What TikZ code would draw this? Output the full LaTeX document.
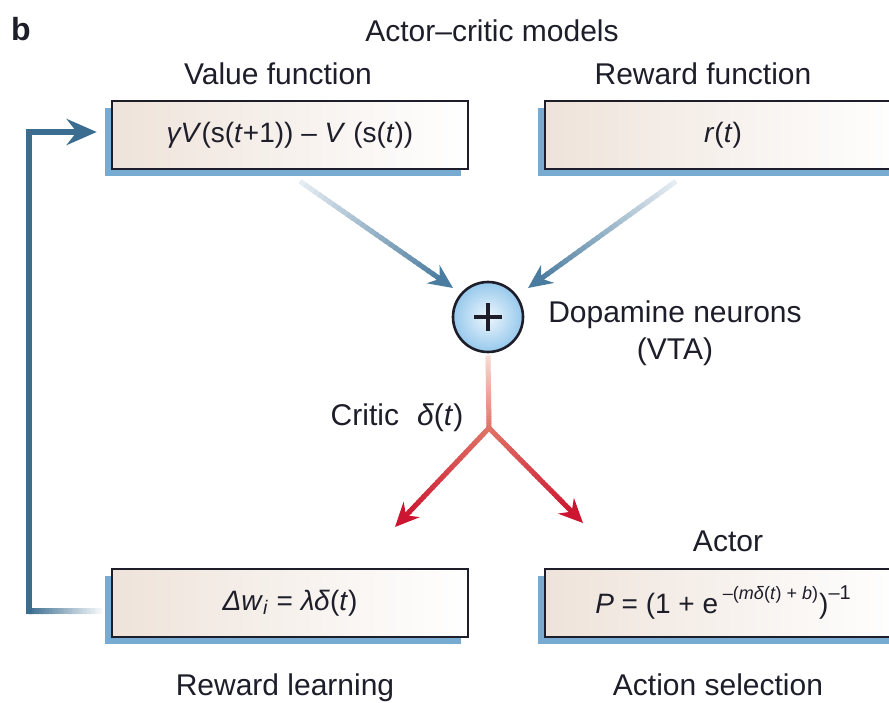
\documentclass[tikz,border=0pt]{standalone}
\usepackage{fontspec}
\setmainfont{Liberation Sans}
\usetikzlibrary{arrows.meta,calc,shadows}

\definecolor{ink}{HTML}{1E1E2A}
\definecolor{boxtan}{HTML}{EEE3DA}
\definecolor{shadowblue}{HTML}{78ABD1}
\definecolor{arrowblue}{HTML}{4A7C9F}
\definecolor{fadeblue}{HTML}{E8EEF3}
\definecolor{loopblue}{HTML}{3B6D90}
\definecolor{pinkfade}{HTML}{FADDD5}
\definecolor{midred}{HTML}{E07466}
\definecolor{deepred}{HTML}{CC1530}
\definecolor{ballin}{HTML}{EEF7FD}
\definecolor{ballout}{HTML}{96C8EC}

% straight stroke whose colour runs from #3 at (#1) to #4 at (#2)
\newcommand{\gline}[5]{%
  \foreach \k in {0,...,29}{%
    \pgfmathsetmacro{\gfa}{\k/30}%
    \pgfmathsetmacro{\gfb}{min(1,(\k+1.4)/30)}%
    \pgfmathtruncatemacro{\gfm}{100*(\k+0.5)/30}%
    \draw[line width=#5, color=#4!\gfm!#3] ($(#1)!\gfa!(#2)$) -- ($(#1)!\gfb!(#2)$);
  }}

\tikzset{
  lbl/.style={text=ink, font=\fontsize{15}{18}\selectfont, inner sep=0pt},
  eqbox/.style={draw=ink, line width=1.3pt, left color=boxtan, right color=white,
    minimum width=178pt, minimum height=34pt, inner sep=0pt, text=ink,
    font=\fontsize{14}{17}\selectfont,
    general shadow={fill=shadowblue, shadow xshift=-3.5pt, shadow yshift=-3.5pt}},
  sumnode/.style={circle, draw=ink, line width=1.3pt, inner color=ballin,
    outer color=ballout, minimum size=35pt, inner sep=0pt},
  bluetip/.style={-{Stealth[length=12pt,width=11pt,inset=4pt]}, line width=2.5pt, arrowblue},
  redtip/.style={-{Stealth[length=12pt,width=11pt,inset=4pt]}, line width=2.5pt, deepred},
  looptip/.style={-{Stealth[length=15pt,width=13pt,inset=5pt]}, line width=3pt, loopblue,
    line cap=rect, line join=miter}
}

\begin{document}
\begin{tikzpicture}[x=0.5pt, y=-0.5pt]
\clip (0,0) rectangle (889,702);
\fill[white] (0,0) rectangle (889,702);

% headings
\node[lbl, font=\fontsize{16}{18}\selectfont\bfseries] (panel) at (21,29) {b};
\node[lbl] (title) at (492,31) {Actor–critic models};
\node[lbl] (vflab) at (278,74) {Value function};
\node[lbl] (rflab) at (703,74) {Reward function};

% equation boxes
\node[eqbox] (vf) at (290,135) {\textit{γV}(s(\textit{t}+1)) – \textit{V} (s(\textit{t}))};
\node[eqbox] (rf) at (723,135) {\textit{r}(\textit{t})};
\node[eqbox] (dw) at (290,603) {\textit{Δw}\textsubscript{\textit{i}} = \textit{λδ}(\textit{t})};
\node[eqbox] (act) at (723,603) {\textit{P} = (1 + e\,\raisebox{0.5em}{\fontsize{9}{9}\selectfont –(\textit{mδ}(\textit{t}) + \textit{b})}\kern0.5pt)\raisebox{0.5em}{\fontsize{10}{10}\selectfont –1}};

% dopamine summing node
\node[sumnode] (da) at (488,317) {};
\draw[ink, line width=2.2pt] ($(da)+(-14,0)$) -- ($(da)+(14,0)$);
\draw[ink, line width=2.2pt] ($(da)+(0,-14)$) -- ($(da)+(0,14)$);
\node[lbl] (dalab) at (675,315) {Dopamine neurons};
\node[lbl] (vta) at (675,352) {(VTA)};

% value and reward inputs into the summing node
\coordinate (v0) at ($(vf.south)+(10,11)$);
\coordinate (v1) at ($(da)+(-35,-29)$);
\coordinate (v0e) at ($(v1)!7pt!(v0)$);
\gline{v0}{v0e}{fadeblue}{arrowblue}{2.5pt}
\draw[bluetip] (v0e) -- (v1);

\coordinate (r0) at ($(rf.south)+(-47,11)$);
\coordinate (r1) at ($(da)+(40,-29)$);
\coordinate (r0e) at ($(r1)!7pt!(r0)$);
\gline{r0}{r0e}{fadeblue}{arrowblue}{2.5pt}
\draw[bluetip] (r0e) -- (r1);

% critic signal splitting to learning and action selection
\coordinate (c0) at ($(da.south)+(0,2)$);
\coordinate (fork) at ($(da)+(1,111)$);
\gline{c0}{fork}{pinkfade}{midred}{2.5pt}
\coordinate (lt) at (395,527);
\coordinate (rt) at (583,523);
\coordinate (lte) at ($(lt)!7pt!(fork)$);
\coordinate (rte) at ($(rt)!7pt!(fork)$);
\gline{fork}{lte}{midred}{deepred}{2.5pt}
\gline{fork}{rte}{midred}{deepred}{2.5pt}
\draw[redtip] (lte) -- (lt);
\draw[redtip] (rte) -- (rt);
\node[lbl] (critic) at (397,418) {Critic\hspace{0.6em}\textit{δ}(\textit{t})};

% learning feeds back into the value function
\coordinate (fb0) at ($(dw.west)+(-6,8)$);
\coordinate (fb1) at ($(fb0)+(-76,0)$);
\coordinate (fbtip) at ($(vf.west)+(-14,-3)$);
\gline{fb0}{fb1}{white}{loopblue}{3pt}
\draw[looptip] (fb1) -- (fb1 |- fbtip) -- (fbtip);

% bottom captions
\node[lbl] (actor) at (728,541) {Actor};
\node[lbl, anchor=base] (rl) at (285,695) {Reward learning};
\node[lbl, anchor=base] (as) at (718,695) {Action selection};
\end{tikzpicture}
\end{document}
